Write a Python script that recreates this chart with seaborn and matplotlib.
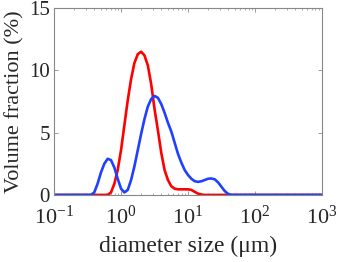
import numpy as np
import pandas as pd
import seaborn as sns
import matplotlib
matplotlib.use("Agg")
import matplotlib.pyplot as plt
from matplotlib.ticker import LogLocator, FixedLocator, FuncFormatter

# log10 of diameter (um) and volume fraction (%)
RED_LOGD = [-1.00, -0.20, -0.15, -0.10, -0.05, 0.00, 0.05, 0.10, 0.15, 0.20,
            0.25, 0.30, 0.35, 0.40, 0.45, 0.50, 0.55, 0.60, 0.65, 0.70,
            0.75, 0.80, 0.85, 0.90, 0.95, 1.00, 1.05, 1.10, 1.15, 1.20,
            1.25, 3.00]
RED_VAL = [0, 0, 0.2, 0.9, 2.0, 3.6, 5.6, 7.6, 9.3, 10.6,
           11.3, 11.5, 11.2, 10.4, 8.9, 6.9, 5.2, 3.4, 2.0, 1.2,
           0.7, 0.5, 0.45, 0.45, 0.45, 0.45, 0.4, 0.25, 0.1, 0.03,
           0, 0]

BLUE_LOGD = [-1.00, -0.45, -0.40, -0.35, -0.30, -0.25, -0.20, -0.15, -0.10, -0.05,
             0.00, 0.05, 0.10, 0.15, 0.20, 0.25, 0.30, 0.35, 0.40, 0.45,
             0.50, 0.55, 0.60, 0.65, 0.70, 0.75, 0.80, 0.85, 0.90, 0.95,
             1.00, 1.05, 1.10, 1.15, 1.20, 1.25, 1.30, 1.35, 1.40, 1.45,
             1.50, 1.55, 1.60, 1.65, 3.00]
BLUE_VAL = [0, 0, 0.2, 0.9, 1.8, 2.5, 2.9, 2.8, 2.2, 1.3,
            0.5, 0.2, 0.4, 1.2, 2.3, 3.6, 4.9, 6.1, 7.1, 7.7,
            7.95, 7.8, 7.3, 6.6, 5.8, 5.1, 4.2, 3.3, 2.6, 2.0,
            1.6, 1.3, 1.1, 1.05, 1.1, 1.2, 1.3, 1.32, 1.25, 1.0,
            0.65, 0.3, 0.08, 0, 0]

Y_TICKS = [0, 5, 10, 15]

sns.set_style("ticks")
plt.rcParams["font.family"] = ["Liberation Serif", "DejaVu Serif"]
plt.rcParams["mathtext.fontset"] = "custom"
plt.rcParams["mathtext.rm"] = "Liberation Serif"
plt.rcParams["mathtext.it"] = "Liberation Serif:italic"
plt.rcParams["xtick.direction"] = "in"
plt.rcParams["ytick.direction"] = "in"

red = pd.DataFrame({"d": 10 ** np.array(RED_LOGD), "v": RED_VAL})
blue = pd.DataFrame({"d": 10 ** np.array(BLUE_LOGD), "v": BLUE_VAL})

fig = plt.figure(figsize=(3.4, 2.62), dpi=100)
ax = fig.add_axes([0.159, 0.256, 0.788, 0.713])

sns.lineplot(data=red, x="d", y="v", color="#ff0000", lw=1.9, ax=ax, sort=False)
sns.lineplot(data=blue, x="d", y="v", color="#2040ff", lw=1.9, ax=ax, sort=False)

ax.set_xscale("log")
ax.set_xlim(0.1, 1000)
ax.set_ylim(0, 15)
ax.yaxis.set_major_locator(FixedLocator(Y_TICKS))
ax.xaxis.set_major_locator(LogLocator(base=10, numticks=10))
ax.xaxis.set_minor_locator(LogLocator(base=10, subs=np.arange(2, 10), numticks=10))
ax.xaxis.set_major_formatter(
    FuncFormatter(lambda v, p: r"$\mathrm{10^{%s}}$" % ("-1" if v < 0.5 else str(int(round(np.log10(v)))))))

ax.tick_params(which="both", top=True, right=True, color="#888888")
ax.tick_params(axis="x", labelsize=16, pad=8)
ax.tick_params(axis="y", labelsize=15, pad=3)
ax.tick_params(which="major", length=3, width=0.6)
ax.tick_params(which="minor", length=1.5, width=0.5)
for s in ax.spines.values():
    s.set_color("#888888")
    s.set_linewidth(0.8)

ax.set_xlabel("diameter size (\u03bcm)", fontsize=17, labelpad=5)
ax.set_ylabel("Volume fraction (%)", fontsize=16, labelpad=3)

fig.savefig("out.png", dpi=100)
